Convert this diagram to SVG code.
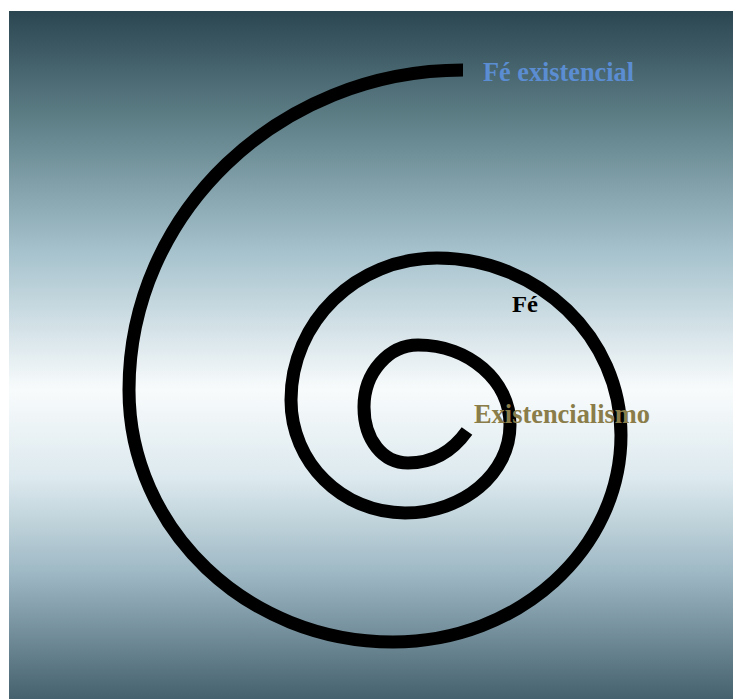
<svg xmlns="http://www.w3.org/2000/svg" width="733" height="699" viewBox="0 0 733 699">
  <defs>
    <linearGradient id="bg" x1="0" y1="0" x2="0" y2="1">
      <stop offset="0" stop-color="#2b4651"/>
      <stop offset="0.18" stop-color="#66878f"/>
      <stop offset="0.35" stop-color="#a6c2cd"/>
      <stop offset="0.55" stop-color="#f8fbfc"/>
      <stop offset="0.68" stop-color="#dce9ee"/>
      <stop offset="0.82" stop-color="#9cb7c3"/>
      <stop offset="1" stop-color="#45616d"/>
    </linearGradient>
    <style>
      .spiral { fill: none; stroke: #000; stroke-width: 13; stroke-linecap: butt; }
      .lbl { font-family: "Liberation Serif", "Times New Roman", serif; font-weight: bold; }
    </style>
  </defs>
  <rect x="0" y="0" width="733" height="699" fill="#ffffff"/>
  <rect x="9" y="11" width="724" height="688" fill="url(#bg)"/>
  <g id="connectors">
    <path id="spiral" class="spiral" d="M467,431 C452,452 432,463 408,463 C383,463 364,440 364,407 C364,371.9 389.3,345 418,345 C468.8,345 510,380.8 510,425 C510,473.6 463,513 405,513 C342,513 291,462.4 291,400 C291,321.6 356.4,258 437,258 C538.6,258 621,337.2 621,435 C621,549.3 518.9,642 393,642 C247.2,642 129,529.2 129,390 C129,213.3 278.5,70 463,70"/>
  </g>
  <g id="node-fe-existencial">
    <text class="lbl" x="483" y="81" font-size="28" fill="#5b8dd3" textLength="151" lengthAdjust="spacingAndGlyphs">Fé existencial</text>
  </g>
  <g id="node-fe">
    <text class="lbl" x="512" y="312" font-size="23" fill="#000000" textLength="26" lengthAdjust="spacingAndGlyphs">Fé</text>
  </g>
  <g id="node-existencialismo">
    <text class="lbl" x="474" y="423" font-size="28" fill="#8a7d49" textLength="176" lengthAdjust="spacingAndGlyphs">Existencialismo</text>
  </g>
</svg>
